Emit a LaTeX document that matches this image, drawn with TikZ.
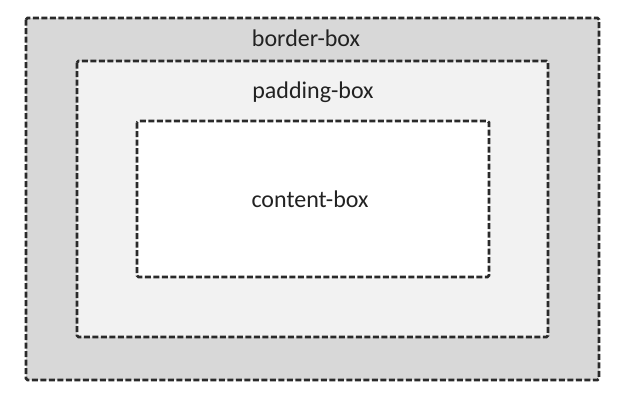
\documentclass[tikz,border=0pt]{standalone}
\usepackage{fontspec}
\setmainfont{Carlito}
\definecolor{bordergray}{HTML}{D8D8D8}
\definecolor{padgray}{HTML}{F2F2F2}
\definecolor{linegray}{HTML}{2A2A2A}
\definecolor{textgray}{HTML}{222222}
\begin{document}
\begin{tikzpicture}[x=1pt,y=-1pt,
  boxline/.style={draw=linegray,line width=2.7pt,dash pattern=on 6pt off 2.5pt,rounded corners=1.5pt},
  lbl/.style={text=textgray,font=\fontsize{24}{28}\selectfont,anchor=base,inner sep=0pt}]
\useasboundingbox (0,0) rectangle (629,405);
\fill[white] (0,0) rectangle (629,405);
\draw[boxline,fill=bordergray] (26,18) rectangle (599,380);
\draw[boxline,fill=padgray] (77,61) rectangle (548,337);
\draw[boxline,fill=white] (137,121) rectangle (489,277);
\node[lbl] (b) at (306,46) {border-box};
\node[lbl] (p) at (313,98) {padding-box};
\node[lbl] (c) at (310,207) {content-box};
\end{tikzpicture}
\end{document}
